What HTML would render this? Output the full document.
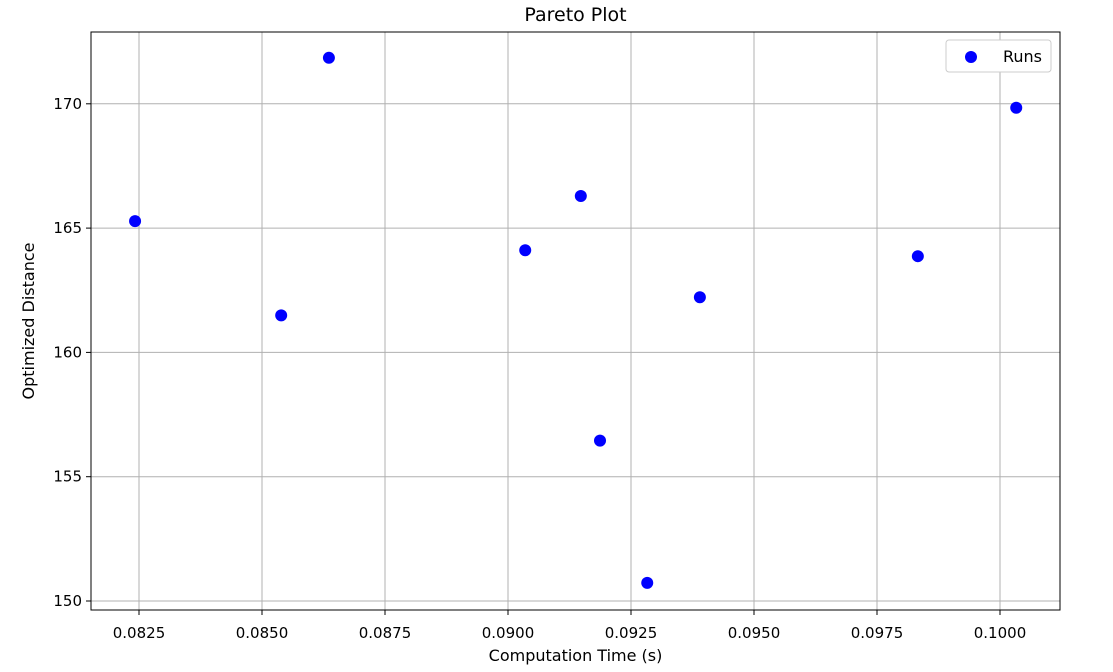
<!DOCTYPE html>
<html><head><meta charset="utf-8"><style>
body{margin:0;background:#fff;font-family:"Liberation Sans","DejaVu Sans",sans-serif;}
svg text{font-family:"DejaVu Sans","Liberation Sans",sans-serif;}
</style></head><body>
<svg id="chart" width="1113" height="667" xmlns="http://www.w3.org/2000/svg">
<rect width="1113" height="667" fill="#fff"/>
<g id="grid"></g>
<g id="ticks"></g>
<g id="points"></g>
<rect x="91" y="32" width="969" height="578" fill="none" stroke="#000" stroke-width="1"/>
<text x="575.5" y="21" font-size="19" text-anchor="middle">Pareto Plot</text>
<text x="575.5" y="661" font-size="16" text-anchor="middle">Computation Time (s)</text>
<text x="34" y="321" font-size="16" text-anchor="middle" transform="rotate(-90 34 321)">Optimized Distance</text>
<g>
<rect x="946" y="40" width="105" height="32" rx="3" fill="#fff" stroke="#ccc"/>
<circle cx="971" cy="57" r="6" fill="#0000ff"/>
<text x="1003" y="62" font-size="16">Runs</text>
</g>
</svg>
<script>
const xVals=[0.08242,0.08539,0.08636,0.09035,0.09148,0.09187,0.09283,0.0939,0.09833,0.10033];
const yVals=[165.28,161.49,171.85,164.11,166.29,156.45,150.73,162.22,163.87,169.84];
const xTicks=[0.0825,0.0850,0.0875,0.0900,0.0925,0.0950,0.0975,0.1000];
const xTickLabels=["0.0825","0.0850","0.0875","0.0900","0.0925","0.0950","0.0975","0.1000"];
const yTicks=[150,155,160,165,170];
const yTickLabels=["150","155","160","165","170"];
const NS="http://www.w3.org/2000/svg";
function sx(v){return 139+(v-0.0825)*49200;}
function sy(v){return 601-(v-150)*24.86;}
function mk(tag,attrs,parent){const e=document.createElementNS(NS,tag);for(const k in attrs)e.setAttribute(k,attrs[k]);document.getElementById(parent).appendChild(e);return e;}
xTicks.forEach((t,i)=>{const x=sx(t);
 const g=mk('line',{x1:x,x2:x,y1:32,y2:610,stroke:'#b0b0b0','stroke-width':1},'grid');
 
 
 mk('line',{x1:x,x2:x,y1:610,y2:615,stroke:'#000'},'ticks');
 const l=mk('text',{x:x,y:638,'font-size':15,'text-anchor':'middle'},'ticks');l.textContent=xTickLabels[i];
 
 
});
yTicks.forEach((t,i)=>{const y=sy(t);
 const g=mk('line',{x1:91,x2:1060,y1:y,y2:y,stroke:'#b0b0b0','stroke-width':1},'grid');
 
 
 mk('line',{x1:86,x2:91,y1:y,y2:y,stroke:'#000'},'ticks');
 const l=mk('text',{x:82,y:y+5,'font-size':15,'text-anchor':'end'},'ticks');l.textContent=yTickLabels[i];
 
 
});
xVals.forEach((v,i)=>{
 const c=mk('circle',{cx:sx(v),cy:sy(yVals[i]),r:6,fill:'#0000ff'},'points');
 
 
});
</script>
</body></html>
